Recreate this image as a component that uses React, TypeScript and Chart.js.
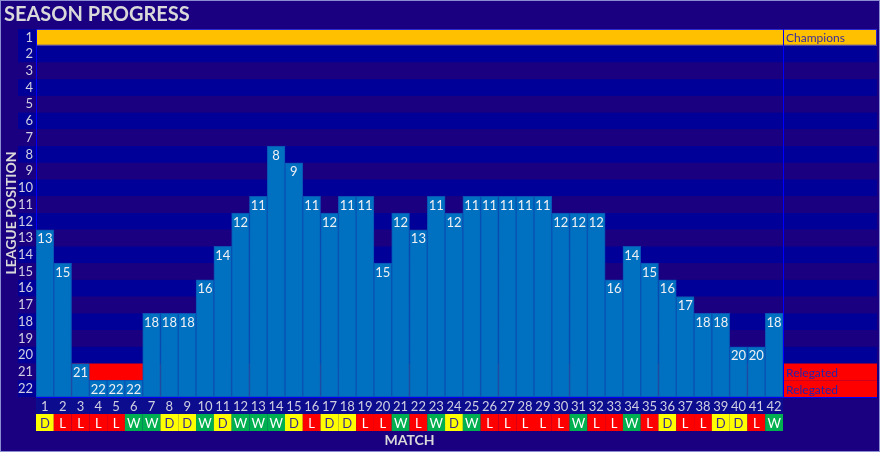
import { useEffect, useRef } from 'react';
import { Chart, registerables } from 'chart.js';

Chart.register(...registerables);

const matches = ['1','2','3','4','5','6','7','8','9','10','11','12','13','14','15','16','17','18','19','20','21','22','23','24','25','26','27','28','29','30','31','32','33','34','35','36','37','38','39','40','41','42'];
const positions = [13,15,21,22,22,22,18,18,18,16,14,12,11,8,9,11,12,11,11,15,12,13,11,12,11,11,11,11,11,12,12,12,16,14,15,16,17,18,18,20,20,18];
const results = ['D','L','L','L','L','W','W','D','D','W','D','W','W','W','D','L','D','D','L','L','W','L','W','D','W','L','L','L','L','L','W','L','L','W','L','D','L','L','D','D','L','W'];
const positionTicks = [1,2,3,4,5,6,7,8,9,10,11,12,13,14,15,16,17,18,19,20,21,22];
const championRows = [1];
const relegationRows = [21, 22];
const championLabel = 'Champions';
const relegationLabel = 'Relegated';

const FONT = 'Lato, "Open Sans", sans-serif';
const BG = '#1A0080';
const STRIPE = '#000099';
const AXIS = '#0000FF';
const TEXT = '#D0D0E2';

export default function App() {
  const ref = useRef<HTMLCanvasElement | null>(null);

  useEffect(() => {
    document.body.style.margin = '0';
    const canvas = ref.current;
    if (!canvas) return;

    const lastRow = positionTicks[positionTicks.length - 1];

    const decor = {
      id: 'decor',
      beforeDraw(chart: any) {
        const { ctx, chartArea, scales } = chart;
        const y = scales.y;
        const x = scales.x;
        const W = chart.width;
        const H = chart.height;
        const rightEnd = W - 3;
        const labelLeft = chartArea.left - 18;
        ctx.save();
        ctx.fillStyle = BG;
        ctx.fillRect(0, 0, W, H);
        positionTicks.forEach((r) => {
          const t = y.getPixelForValue(r - 0.5);
          const b = y.getPixelForValue(r + 0.5);
          ctx.fillStyle = r % 2 === 0 || r === 1 ? STRIPE : BG;
          ctx.fillRect(labelLeft, t, rightEnd - labelLeft, b - t);
        });
        championRows.forEach((r) => {
          const t = y.getPixelForValue(r - 0.5);
          const b = y.getPixelForValue(r + 0.5);
          ctx.fillStyle = '#FFC000';
          ctx.fillRect(chartArea.left, t, rightEnd - chartArea.left, b - t);
          ctx.strokeStyle = '#2A2AD0';
          ctx.lineWidth = 1;
          ctx.strokeRect(chartArea.left + 0.5, Math.round(t) + 0.5, rightEnd - chartArea.left - 1, b - t - 1);
        });
        relegationRows.forEach((r) => {
          const t = y.getPixelForValue(r - 0.5);
          const b = y.getPixelForValue(r + 0.5);
          ctx.fillStyle = '#FF0000';
          ctx.fillRect(chartArea.left, t, rightEnd - chartArea.left, b - t);
        });
        const colW = x.getPixelForValue(1) - x.getPixelForValue(0);
        ctx.fillStyle = '#0C0C8E';
        ctx.fillRect(chartArea.left, chartArea.bottom, chartArea.right - chartArea.left, 17);
        const rTop = chartArea.bottom + 17;
        const rH = 17;
        results.forEach((res, i) => {
          const cx = x.getPixelForValue(i);
          ctx.fillStyle = res === 'W' ? '#00B050' : res === 'L' ? '#FF0000' : '#FFFF00';
          ctx.fillRect(cx - colW / 2, rTop, colW, rH);
        });
        ctx.restore();
      },
      afterDatasetsDraw(chart: any) {
        const { ctx, chartArea, scales } = chart;
        const y = scales.y;
        const x = scales.x;
        const W = chart.width;
        const H = chart.height;
        const rightEnd = W - 3;
        ctx.save();
        ctx.font = '13px ' + FONT;
        ctx.textAlign = 'center';
        ctx.textBaseline = 'middle';
        ctx.fillStyle = '#F0F0F4';
        positions.forEach((p, i) => {
          ctx.fillText(String(p), x.getPixelForValue(i), y.getPixelForValue(p) + 1);
        });
        ctx.strokeStyle = AXIS;
        ctx.lineWidth = 1;
        ctx.beginPath();
        ctx.moveTo(Math.round(chartArea.right) + 0.5, chartArea.top);
        ctx.lineTo(Math.round(chartArea.right) + 0.5, chartArea.bottom);
        ctx.stroke();
        ctx.beginPath();
        ctx.moveTo(chartArea.left, Math.round(chartArea.bottom) + 0.5);
        ctx.lineTo(rightEnd, Math.round(chartArea.bottom) + 0.5);
        ctx.stroke();
        ctx.font = '12px ' + FONT;
        ctx.textAlign = 'left';
        ctx.fillStyle = '#3A2D9A';
        championRows.forEach((r) => {
          ctx.fillText(championLabel, chartArea.right + 3, y.getPixelForValue(r) + 1);
        });
        ctx.fillStyle = '#2A20A8';
        relegationRows.forEach((r) => {
          ctx.fillText(relegationLabel, chartArea.right + 3, y.getPixelForValue(r) + 1);
        });
        ctx.font = '13px ' + FONT;
        ctx.textAlign = 'center';
        const rMid = chartArea.bottom + 17 + 8.5;
        results.forEach((res, i) => {
          ctx.fillStyle = res === 'D' ? '#3B2C8C' : '#FFFFFF';
          ctx.fillText(res, x.getPixelForValue(i), rMid + 1);
        });
        ctx.strokeStyle = '#8C8CD0';
        ctx.strokeRect(0.5, 0.5, W - 1, H - 1);
        ctx.restore();
      },
    };

    const chart = new Chart(canvas, {
      type: 'bar',
      data: {
        labels: matches,
        datasets: [
          {
            label: 'League position',
            data: positions.map((p) => [p - 0.5, lastRow + 0.5]) as any,
            backgroundColor: '#0070C0',
            borderColor: '#0A52B4',
            borderWidth: 1,
            borderSkipped: false,
            barPercentage: 1,
            categoryPercentage: 1,
          },
        ],
      },
      options: {
        responsive: false,
        animation: false,
        devicePixelRatio: 1,
        layout: { padding: { left: 4, right: 97, top: 0, bottom: 3 } },
        plugins: {
          legend: { display: false },
          tooltip: { enabled: false },
          title: {
            display: true,
            text: 'SEASON PROGRESS',
            align: 'start',
            color: '#D9D9D9',
            font: { family: FONT, size: 20, weight: 'bold' },
            padding: { top: 3, bottom: 2 },
          },
        },
        scales: {
          x: {
            type: 'category',
            grid: { display: false, drawTicks: false },
            border: { display: false },
            ticks: {
              color: TEXT,
              font: { family: FONT, size: 13 },
              padding: 2,
              maxRotation: 0,
              autoSkip: false,
            },
            title: {
              display: true,
              text: 'MATCH',
              color: '#D9D9D9',
              font: { family: FONT, size: 14, weight: 'bold' },
              padding: 0,
            },
            afterFit: (s: any) => {
              s.height = 52;
            },
          },
          y: {
            type: 'linear',
            reverse: true,
            min: 0.5,
            max: lastRow + 0.5,
            grid: { display: false, drawTicks: false },
            border: { display: true, color: AXIS, width: 1 },
            ticks: {
              color: TEXT,
              font: { family: FONT, size: 13 },
              padding: 3,
              autoSkip: false,
            },
            afterBuildTicks: (s: any) => {
              s.ticks = positionTicks.map((v) => ({ value: v }));
            },
            title: {
              display: true,
              text: 'LEAGUE POSITION',
              color: '#D9D9D9',
              font: { family: FONT, size: 14, weight: 'bold', lineHeight: 1 },
              padding: 0,
            },
            afterFit: (s: any) => {
              s.width = 32;
            },
          },
        },
      },
      plugins: [decor],
    });

    return () => chart.destroy();
  }, []);

  return <canvas ref={ref} width={880} height={452} style={{ display: 'block' }} />;
}
